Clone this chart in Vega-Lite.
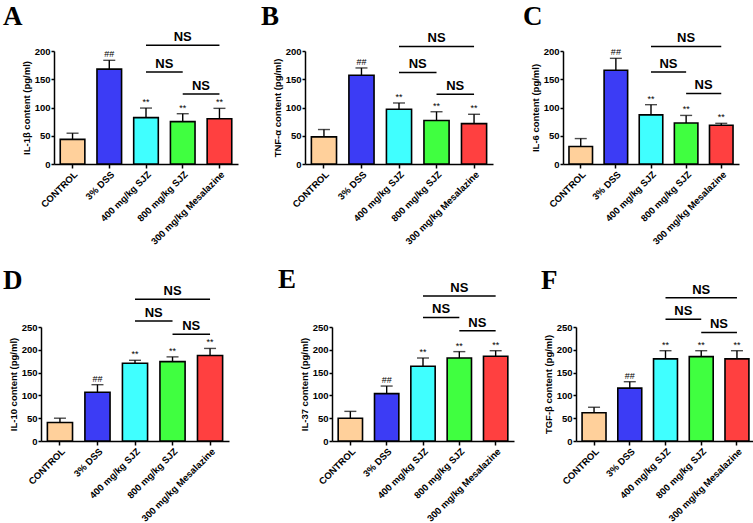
{
"$schema": "https://vega.github.io/schema/vega-lite/v6.json",
"padding": {"left": 3, "top": 3, "right": 5, "bottom": 0},
"background": "white",
"config": {
  "view": {"stroke": null},
  "font": "Liberation Sans",
  "title": {"font": "Liberation Serif", "fontSize": 27, "fontWeight": "bold", "anchor": "start", "frame": "group", "color": "black", "offset": -3, "baseline": "alphabetic"},
  "axis": {"labelFont": "Liberation Sans", "labelFontWeight": "bold", "labelColor": "black", "titleFont": "Liberation Sans", "titleFontWeight": "bold", "titleColor": "black", "domainColor": "black", "domainWidth": 1.5, "tickColor": "black", "tickWidth": 1.5, "grid": false, "labelOverlap": false},
  "axisY": {"labelFontSize": 9.5, "titleFontSize": 9.5, "tickSize": 3, "labelPadding": 1, "titlePadding": 3, "tickCount": 6},
  "axisX": {"labelAngle": -45, "labelFontSize": 9.5, "tickSize": 4, "labelPadding": 1}
},
"datasets": {
  "bars": [
    {"panel": "A", "group": "CONTROL", "mean": 43.5, "hi": 54.5, "sig": ""},
    {"panel": "A", "group": "3% DSS", "mean": 168, "hi": 183.5, "sig": "##"},
    {"panel": "A", "group": "400 mg/kg SJZ", "mean": 82, "hi": 99, "sig": "**"},
    {"panel": "A", "group": "800 mg/kg SJZ", "mean": 75, "hi": 89, "sig": "**"},
    {"panel": "A", "group": "300 mg/kg Mesalazine", "mean": 80, "hi": 98.5, "sig": "**"},
    {"panel": "B", "group": "CONTROL", "mean": 48, "hi": 61, "sig": ""},
    {"panel": "B", "group": "3% DSS", "mean": 157, "hi": 170, "sig": "##"},
    {"panel": "B", "group": "400 mg/kg SJZ", "mean": 97, "hi": 108, "sig": "**"},
    {"panel": "B", "group": "800 mg/kg SJZ", "mean": 77, "hi": 92.5, "sig": "**"},
    {"panel": "B", "group": "300 mg/kg Mesalazine", "mean": 71.5, "hi": 88, "sig": "**"},
    {"panel": "C", "group": "CONTROL", "mean": 31, "hi": 45, "sig": ""},
    {"panel": "C", "group": "3% DSS", "mean": 166, "hi": 187, "sig": "##"},
    {"panel": "C", "group": "400 mg/kg SJZ", "mean": 87, "hi": 105, "sig": "**"},
    {"panel": "C", "group": "800 mg/kg SJZ", "mean": 72.5, "hi": 86, "sig": "**"},
    {"panel": "C", "group": "300 mg/kg Mesalazine", "mean": 68.5, "hi": 72, "sig": "**"},
    {"panel": "D", "group": "CONTROL", "mean": 40.5, "hi": 50, "sig": ""},
    {"panel": "D", "group": "3% DSS", "mean": 107, "hi": 123.5, "sig": "##"},
    {"panel": "D", "group": "400 mg/kg SJZ", "mean": 170.5, "hi": 177, "sig": "**"},
    {"panel": "D", "group": "800 mg/kg SJZ", "mean": 174, "hi": 184.5, "sig": "**"},
    {"panel": "D", "group": "300 mg/kg Mesalazine", "mean": 187.5, "hi": 203, "sig": "**"},
    {"panel": "E", "group": "CONTROL", "mean": 50, "hi": 65, "sig": ""},
    {"panel": "E", "group": "3% DSS", "mean": 104, "hi": 120.5, "sig": "##"},
    {"panel": "E", "group": "400 mg/kg SJZ", "mean": 164, "hi": 182, "sig": "**"},
    {"panel": "E", "group": "800 mg/kg SJZ", "mean": 182, "hi": 196, "sig": "**"},
    {"panel": "E", "group": "300 mg/kg Mesalazine", "mean": 186, "hi": 198, "sig": "**"},
    {"panel": "F", "group": "CONTROL", "mean": 62, "hi": 74, "sig": ""},
    {"panel": "F", "group": "3% DSS", "mean": 116, "hi": 130, "sig": "##"},
    {"panel": "F", "group": "400 mg/kg SJZ", "mean": 180, "hi": 198, "sig": "**"},
    {"panel": "F", "group": "800 mg/kg SJZ", "mean": 185, "hi": 198, "sig": "**"},
    {"panel": "F", "group": "300 mg/kg Mesalazine", "mean": 180, "hi": 198, "sig": "**"}
  ],
  "ns": [
    {"panel": "A", "from": "400 mg/kg SJZ", "to": "300 mg/kg Mesalazine", "at": "800 mg/kg SJZ", "span": 2, "level": 210, "label": "NS"},
    {"panel": "A", "from": "400 mg/kg SJZ", "to": "800 mg/kg SJZ", "at": "800 mg/kg SJZ", "span": 1, "level": 163, "label": "NS"},
    {"panel": "A", "from": "800 mg/kg SJZ", "to": "300 mg/kg Mesalazine", "at": "300 mg/kg Mesalazine", "span": 1, "level": 124, "label": "NS"},
    {"panel": "B", "from": "400 mg/kg SJZ", "to": "300 mg/kg Mesalazine", "at": "800 mg/kg SJZ", "span": 2, "level": 208, "label": "NS"},
    {"panel": "B", "from": "400 mg/kg SJZ", "to": "800 mg/kg SJZ", "at": "800 mg/kg SJZ", "span": 1, "level": 162, "label": "NS"},
    {"panel": "B", "from": "800 mg/kg SJZ", "to": "300 mg/kg Mesalazine", "at": "300 mg/kg Mesalazine", "span": 1, "level": 123.5, "label": "NS"},
    {"panel": "C", "from": "400 mg/kg SJZ", "to": "300 mg/kg Mesalazine", "at": "800 mg/kg SJZ", "span": 2, "level": 208, "label": "NS"},
    {"panel": "C", "from": "400 mg/kg SJZ", "to": "800 mg/kg SJZ", "at": "800 mg/kg SJZ", "span": 1, "level": 163, "label": "NS"},
    {"panel": "C", "from": "800 mg/kg SJZ", "to": "300 mg/kg Mesalazine", "at": "300 mg/kg Mesalazine", "span": 1, "level": 125, "label": "NS"},
    {"panel": "D", "from": "400 mg/kg SJZ", "to": "300 mg/kg Mesalazine", "at": "800 mg/kg SJZ", "span": 2, "level": 311, "label": "NS"},
    {"panel": "D", "from": "400 mg/kg SJZ", "to": "800 mg/kg SJZ", "at": "800 mg/kg SJZ", "span": 1, "level": 263, "label": "NS"},
    {"panel": "D", "from": "800 mg/kg SJZ", "to": "300 mg/kg Mesalazine", "at": "300 mg/kg Mesalazine", "span": 1, "level": 234, "label": "NS"},
    {"panel": "E", "from": "400 mg/kg SJZ", "to": "300 mg/kg Mesalazine", "at": "800 mg/kg SJZ", "span": 2, "level": 318, "label": "NS"},
    {"panel": "E", "from": "400 mg/kg SJZ", "to": "800 mg/kg SJZ", "at": "800 mg/kg SJZ", "span": 1, "level": 271, "label": "NS"},
    {"panel": "E", "from": "800 mg/kg SJZ", "to": "300 mg/kg Mesalazine", "at": "300 mg/kg Mesalazine", "span": 1, "level": 242, "label": "NS"},
    {"panel": "F", "from": "400 mg/kg SJZ", "to": "300 mg/kg Mesalazine", "at": "800 mg/kg SJZ", "span": 2, "level": 314, "label": "NS"},
    {"panel": "F", "from": "400 mg/kg SJZ", "to": "800 mg/kg SJZ", "at": "800 mg/kg SJZ", "span": 1, "level": 267, "label": "NS"},
    {"panel": "F", "from": "800 mg/kg SJZ", "to": "300 mg/kg Mesalazine", "at": "300 mg/kg Mesalazine", "span": 1, "level": 238, "label": "NS"}
  ]
},
"vconcat": [
 {"hconcat": [
  {"width": 197, "height": 136, "title": {"text": "A", "dx": -38},
   "encoding": {"x": {"field": "group", "type": "nominal", "sort": null, "scale": {"domain": ["CONTROL", "3% DSS", "400 mg/kg SJZ", "800 mg/kg SJZ", "300 mg/kg Mesalazine"], "range": [13, 197], "paddingInner": 0.33, "paddingOuter": 0.17}, "axis": {"title": null}}},
   "layer": [
    {"data": {"name": "bars"}, "transform": [{"filter": "datum.panel === 'A'"}], "mark": {"type": "bar", "stroke": "black", "strokeWidth": 1.6},
     "encoding": {"y": {"field": "mean", "type": "quantitative", "scale": {"domain": [0, 200], "range": [136, 23], "nice": false}, "axis": {"title": "IL-1β content (pg/ml)", "values": [0, 50, 100, 150, 200], "offset": -13}},
      "color": {"field": "group", "type": "nominal", "scale": {"domain": ["CONTROL", "3% DSS", "400 mg/kg SJZ", "800 mg/kg SJZ", "300 mg/kg Mesalazine"], "range": ["#FFD09B", "#3C3CF5", "#40FFFF", "#40FF40", "#FF4040"]}, "legend": null}}},
    {"data": {"name": "bars"}, "transform": [{"filter": "datum.panel === 'A'"}], "mark": {"type": "rule", "color": "black", "strokeWidth": 1.4}, "encoding": {"y": {"field": "mean", "type": "quantitative"}, "y2": {"field": "hi"}}},
    {"data": {"name": "bars"}, "transform": [{"filter": "datum.panel === 'A'"}], "mark": {"type": "tick", "color": "black", "thickness": 1.4, "size": 12}, "encoding": {"y": {"field": "hi", "type": "quantitative"}}},
    {"data": {"name": "bars"}, "transform": [{"filter": "datum.panel === 'A'"}], "mark": {"type": "text", "fontSize": 9, "dy": -3, "baseline": "alphabetic", "color": "black"}, "encoding": {"y": {"field": "hi", "type": "quantitative"}, "text": {"field": "sig"}}},
    {"data": {"name": "ns"}, "transform": [{"filter": "datum.panel === 'A'"}], "mark": {"type": "rule", "color": "black", "strokeWidth": 1.5}, "encoding": {"x": {"field": "from", "type": "nominal"}, "x2": {"field": "to"}, "y": {"field": "level", "type": "quantitative"}}},
    {"data": {"name": "ns"}, "transform": [{"filter": "datum.panel === 'A' && datum.span === 2"}], "mark": {"type": "text", "fontSize": 13, "fontWeight": "bold", "dy": -4, "baseline": "alphabetic", "color": "black"}, "encoding": {"x": {"field": "at", "type": "nominal"}, "y": {"field": "level", "type": "quantitative"}, "text": {"field": "label"}}},
    {"data": {"name": "ns"}, "transform": [{"filter": "datum.panel === 'A' && datum.span === 1"}], "mark": {"type": "text", "fontSize": 13, "fontWeight": "bold", "dy": -4, "baseline": "alphabetic", "color": "black"}, "encoding": {"x": {"field": "at", "type": "nominal", "bandPosition": -0.25}, "y": {"field": "level", "type": "quantitative"}, "text": {"field": "label"}}}
   ]},
  {"hconcat": [
  {"width": 188, "height": 136, "title": {"text": "B", "dx": -44},
   "encoding": {"x": {"field": "group", "type": "nominal", "sort": null, "scale": {"domain": ["CONTROL", "3% DSS", "400 mg/kg SJZ", "800 mg/kg SJZ", "300 mg/kg Mesalazine"], "paddingInner": 0.33, "paddingOuter": 0.17}, "axis": {"title": null}}},
   "layer": [
    {"data": {"name": "bars"}, "transform": [{"filter": "datum.panel === 'B'"}], "mark": {"type": "bar", "stroke": "black", "strokeWidth": 1.6},
     "encoding": {"y": {"field": "mean", "type": "quantitative", "scale": {"domain": [0, 200], "range": [136, 23], "nice": false}, "axis": {"title": "TNF-α content (pg/ml)", "values": [0, 50, 100, 150, 200]}},
      "color": {"field": "group", "type": "nominal", "scale": {"domain": ["CONTROL", "3% DSS", "400 mg/kg SJZ", "800 mg/kg SJZ", "300 mg/kg Mesalazine"], "range": ["#FFD09B", "#3C3CF5", "#40FFFF", "#40FF40", "#FF4040"]}, "legend": null}}},
    {"data": {"name": "bars"}, "transform": [{"filter": "datum.panel === 'B'"}], "mark": {"type": "rule", "color": "black", "strokeWidth": 1.4}, "encoding": {"y": {"field": "mean", "type": "quantitative"}, "y2": {"field": "hi"}}},
    {"data": {"name": "bars"}, "transform": [{"filter": "datum.panel === 'B'"}], "mark": {"type": "tick", "color": "black", "thickness": 1.4, "size": 12}, "encoding": {"y": {"field": "hi", "type": "quantitative"}}},
    {"data": {"name": "bars"}, "transform": [{"filter": "datum.panel === 'B'"}], "mark": {"type": "text", "fontSize": 9, "dy": -3, "baseline": "alphabetic", "color": "black"}, "encoding": {"y": {"field": "hi", "type": "quantitative"}, "text": {"field": "sig"}}},
    {"data": {"name": "ns"}, "transform": [{"filter": "datum.panel === 'B'"}], "mark": {"type": "rule", "color": "black", "strokeWidth": 1.5}, "encoding": {"x": {"field": "from", "type": "nominal"}, "x2": {"field": "to"}, "y": {"field": "level", "type": "quantitative"}}},
    {"data": {"name": "ns"}, "transform": [{"filter": "datum.panel === 'B' && datum.span === 2"}], "mark": {"type": "text", "fontSize": 13, "fontWeight": "bold", "dy": -4, "baseline": "alphabetic", "color": "black"}, "encoding": {"x": {"field": "at", "type": "nominal"}, "y": {"field": "level", "type": "quantitative"}, "text": {"field": "label"}}},
    {"data": {"name": "ns"}, "transform": [{"filter": "datum.panel === 'B' && datum.span === 1"}], "mark": {"type": "text", "fontSize": 13, "fontWeight": "bold", "dy": -4, "baseline": "alphabetic", "color": "black"}, "encoding": {"x": {"field": "at", "type": "nominal", "bandPosition": -0.25}, "y": {"field": "level", "type": "quantitative"}, "text": {"field": "label"}}}
   ]},
  {"width": 176, "height": 136, "title": {"text": "C", "dx": -40},
   "encoding": {"x": {"field": "group", "type": "nominal", "sort": null, "scale": {"domain": ["CONTROL", "3% DSS", "400 mg/kg SJZ", "800 mg/kg SJZ", "300 mg/kg Mesalazine"], "paddingInner": 0.33, "paddingOuter": 0.17}, "axis": {"title": null}}},
   "layer": [
    {"data": {"name": "bars"}, "transform": [{"filter": "datum.panel === 'C'"}], "mark": {"type": "bar", "stroke": "black", "strokeWidth": 1.6},
     "encoding": {"y": {"field": "mean", "type": "quantitative", "scale": {"domain": [0, 200], "range": [136, 23], "nice": false}, "axis": {"title": "IL-6 content (pg/ml)", "values": [0, 50, 100, 150, 200]}},
      "color": {"field": "group", "type": "nominal", "scale": {"domain": ["CONTROL", "3% DSS", "400 mg/kg SJZ", "800 mg/kg SJZ", "300 mg/kg Mesalazine"], "range": ["#FFD09B", "#3C3CF5", "#40FFFF", "#40FF40", "#FF4040"]}, "legend": null}}},
    {"data": {"name": "bars"}, "transform": [{"filter": "datum.panel === 'C'"}], "mark": {"type": "rule", "color": "black", "strokeWidth": 1.4}, "encoding": {"y": {"field": "mean", "type": "quantitative"}, "y2": {"field": "hi"}}},
    {"data": {"name": "bars"}, "transform": [{"filter": "datum.panel === 'C'"}], "mark": {"type": "tick", "color": "black", "thickness": 1.4, "size": 12}, "encoding": {"y": {"field": "hi", "type": "quantitative"}}},
    {"data": {"name": "bars"}, "transform": [{"filter": "datum.panel === 'C'"}], "mark": {"type": "text", "fontSize": 9, "dy": -3, "baseline": "alphabetic", "color": "black"}, "encoding": {"y": {"field": "hi", "type": "quantitative"}, "text": {"field": "sig"}}},
    {"data": {"name": "ns"}, "transform": [{"filter": "datum.panel === 'C'"}], "mark": {"type": "rule", "color": "black", "strokeWidth": 1.5}, "encoding": {"x": {"field": "from", "type": "nominal"}, "x2": {"field": "to"}, "y": {"field": "level", "type": "quantitative"}}},
    {"data": {"name": "ns"}, "transform": [{"filter": "datum.panel === 'C' && datum.span === 2"}], "mark": {"type": "text", "fontSize": 13, "fontWeight": "bold", "dy": -4, "baseline": "alphabetic", "color": "black"}, "encoding": {"x": {"field": "at", "type": "nominal"}, "y": {"field": "level", "type": "quantitative"}, "text": {"field": "label"}}},
    {"data": {"name": "ns"}, "transform": [{"filter": "datum.panel === 'C' && datum.span === 1"}], "mark": {"type": "text", "fontSize": 13, "fontWeight": "bold", "dy": -4, "baseline": "alphabetic", "color": "black"}, "encoding": {"x": {"field": "at", "type": "nominal", "bandPosition": -0.25}, "y": {"field": "level", "type": "quantitative"}, "text": {"field": "label"}}}
   ]}
  ], "spacing": 30}
 ], "spacing": 23},
 {"hconcat": [
  {"width": 188, "height": 158, "title": {"text": "D", "dx": -38, "offset": -12},
   "encoding": {"x": {"field": "group", "type": "nominal", "sort": null, "scale": {"domain": ["CONTROL", "3% DSS", "400 mg/kg SJZ", "800 mg/kg SJZ", "300 mg/kg Mesalazine"], "paddingInner": 0.33, "paddingOuter": 0.17}, "axis": {"title": null}}},
   "layer": [
    {"data": {"name": "bars"}, "transform": [{"filter": "datum.panel === 'D'"}], "mark": {"type": "bar", "stroke": "black", "strokeWidth": 1.6},
     "encoding": {"y": {"field": "mean", "type": "quantitative", "scale": {"domain": [0, 250], "range": [158, 44], "nice": false}, "axis": {"title": "IL-10 content (pg/ml)", "values": [0, 50, 100, 150, 200, 250]}},
      "color": {"field": "group", "type": "nominal", "scale": {"domain": ["CONTROL", "3% DSS", "400 mg/kg SJZ", "800 mg/kg SJZ", "300 mg/kg Mesalazine"], "range": ["#FFD09B", "#3C3CF5", "#40FFFF", "#40FF40", "#FF4040"]}, "legend": null}}},
    {"data": {"name": "bars"}, "transform": [{"filter": "datum.panel === 'D'"}], "mark": {"type": "rule", "color": "black", "strokeWidth": 1.4}, "encoding": {"y": {"field": "mean", "type": "quantitative"}, "y2": {"field": "hi"}}},
    {"data": {"name": "bars"}, "transform": [{"filter": "datum.panel === 'D'"}], "mark": {"type": "tick", "color": "black", "thickness": 1.4, "size": 12}, "encoding": {"y": {"field": "hi", "type": "quantitative"}}},
    {"data": {"name": "bars"}, "transform": [{"filter": "datum.panel === 'D'"}], "mark": {"type": "text", "fontSize": 9, "dy": -3, "baseline": "alphabetic", "color": "black"}, "encoding": {"y": {"field": "hi", "type": "quantitative"}, "text": {"field": "sig"}}},
    {"data": {"name": "ns"}, "transform": [{"filter": "datum.panel === 'D'"}], "mark": {"type": "rule", "color": "black", "strokeWidth": 1.5}, "encoding": {"x": {"field": "from", "type": "nominal"}, "x2": {"field": "to"}, "y": {"field": "level", "type": "quantitative"}}},
    {"data": {"name": "ns"}, "transform": [{"filter": "datum.panel === 'D' && datum.span === 2"}], "mark": {"type": "text", "fontSize": 13, "fontWeight": "bold", "dy": -4, "baseline": "alphabetic", "color": "black"}, "encoding": {"x": {"field": "at", "type": "nominal"}, "y": {"field": "level", "type": "quantitative"}, "text": {"field": "label"}}},
    {"data": {"name": "ns"}, "transform": [{"filter": "datum.panel === 'D' && datum.span === 1"}], "mark": {"type": "text", "fontSize": 13, "fontWeight": "bold", "dy": -4, "baseline": "alphabetic", "color": "black"}, "encoding": {"x": {"field": "at", "type": "nominal", "bandPosition": -0.25}, "y": {"field": "level", "type": "quantitative"}, "text": {"field": "label"}}}
   ]},
  {"hconcat": [
  {"width": 182, "height": 158, "title": {"text": "E", "dx": -54, "offset": -12},
   "encoding": {"x": {"field": "group", "type": "nominal", "sort": null, "scale": {"domain": ["CONTROL", "3% DSS", "400 mg/kg SJZ", "800 mg/kg SJZ", "300 mg/kg Mesalazine"], "paddingInner": 0.33, "paddingOuter": 0.17}, "axis": {"title": null}}},
   "layer": [
    {"data": {"name": "bars"}, "transform": [{"filter": "datum.panel === 'E'"}], "mark": {"type": "bar", "stroke": "black", "strokeWidth": 1.6},
     "encoding": {"y": {"field": "mean", "type": "quantitative", "scale": {"domain": [0, 250], "range": [158, 44], "nice": false}, "axis": {"title": "IL-37 content (pg/ml)", "values": [0, 50, 100, 150, 200, 250]}},
      "color": {"field": "group", "type": "nominal", "scale": {"domain": ["CONTROL", "3% DSS", "400 mg/kg SJZ", "800 mg/kg SJZ", "300 mg/kg Mesalazine"], "range": ["#FFD09B", "#3C3CF5", "#40FFFF", "#40FF40", "#FF4040"]}, "legend": null}}},
    {"data": {"name": "bars"}, "transform": [{"filter": "datum.panel === 'E'"}], "mark": {"type": "rule", "color": "black", "strokeWidth": 1.4}, "encoding": {"y": {"field": "mean", "type": "quantitative"}, "y2": {"field": "hi"}}},
    {"data": {"name": "bars"}, "transform": [{"filter": "datum.panel === 'E'"}], "mark": {"type": "tick", "color": "black", "thickness": 1.4, "size": 12}, "encoding": {"y": {"field": "hi", "type": "quantitative"}}},
    {"data": {"name": "bars"}, "transform": [{"filter": "datum.panel === 'E'"}], "mark": {"type": "text", "fontSize": 9, "dy": -3, "baseline": "alphabetic", "color": "black"}, "encoding": {"y": {"field": "hi", "type": "quantitative"}, "text": {"field": "sig"}}},
    {"data": {"name": "ns"}, "transform": [{"filter": "datum.panel === 'E'"}], "mark": {"type": "rule", "color": "black", "strokeWidth": 1.5}, "encoding": {"x": {"field": "from", "type": "nominal"}, "x2": {"field": "to"}, "y": {"field": "level", "type": "quantitative"}}},
    {"data": {"name": "ns"}, "transform": [{"filter": "datum.panel === 'E' && datum.span === 2"}], "mark": {"type": "text", "fontSize": 13, "fontWeight": "bold", "dy": -4, "baseline": "alphabetic", "color": "black"}, "encoding": {"x": {"field": "at", "type": "nominal"}, "y": {"field": "level", "type": "quantitative"}, "text": {"field": "label"}}},
    {"data": {"name": "ns"}, "transform": [{"filter": "datum.panel === 'E' && datum.span === 1"}], "mark": {"type": "text", "fontSize": 13, "fontWeight": "bold", "dy": -4, "baseline": "alphabetic", "color": "black"}, "encoding": {"x": {"field": "at", "type": "nominal", "bandPosition": -0.25}, "y": {"field": "level", "type": "quantitative"}, "text": {"field": "label"}}}
   ]},
  {"width": 179, "height": 158, "title": {"text": "F", "dx": -35, "offset": -12},
   "encoding": {"x": {"field": "group", "type": "nominal", "sort": null, "scale": {"domain": ["CONTROL", "3% DSS", "400 mg/kg SJZ", "800 mg/kg SJZ", "300 mg/kg Mesalazine"], "paddingInner": 0.33, "paddingOuter": 0.17}, "axis": {"title": null}}},
   "layer": [
    {"data": {"name": "bars"}, "transform": [{"filter": "datum.panel === 'F'"}], "mark": {"type": "bar", "stroke": "black", "strokeWidth": 1.6},
     "encoding": {"y": {"field": "mean", "type": "quantitative", "scale": {"domain": [0, 250], "range": [158, 44], "nice": false}, "axis": {"title": "TGF-β content (pg/ml)", "values": [0, 50, 100, 150, 200, 250]}},
      "color": {"field": "group", "type": "nominal", "scale": {"domain": ["CONTROL", "3% DSS", "400 mg/kg SJZ", "800 mg/kg SJZ", "300 mg/kg Mesalazine"], "range": ["#FFD09B", "#3C3CF5", "#40FFFF", "#40FF40", "#FF4040"]}, "legend": null}}},
    {"data": {"name": "bars"}, "transform": [{"filter": "datum.panel === 'F'"}], "mark": {"type": "rule", "color": "black", "strokeWidth": 1.4}, "encoding": {"y": {"field": "mean", "type": "quantitative"}, "y2": {"field": "hi"}}},
    {"data": {"name": "bars"}, "transform": [{"filter": "datum.panel === 'F'"}], "mark": {"type": "tick", "color": "black", "thickness": 1.4, "size": 12}, "encoding": {"y": {"field": "hi", "type": "quantitative"}}},
    {"data": {"name": "bars"}, "transform": [{"filter": "datum.panel === 'F'"}], "mark": {"type": "text", "fontSize": 9, "dy": -3, "baseline": "alphabetic", "color": "black"}, "encoding": {"y": {"field": "hi", "type": "quantitative"}, "text": {"field": "sig"}}},
    {"data": {"name": "ns"}, "transform": [{"filter": "datum.panel === 'F'"}], "mark": {"type": "rule", "color": "black", "strokeWidth": 1.5}, "encoding": {"x": {"field": "from", "type": "nominal"}, "x2": {"field": "to"}, "y": {"field": "level", "type": "quantitative"}}},
    {"data": {"name": "ns"}, "transform": [{"filter": "datum.panel === 'F' && datum.span === 2"}], "mark": {"type": "text", "fontSize": 13, "fontWeight": "bold", "dy": -4, "baseline": "alphabetic", "color": "black"}, "encoding": {"x": {"field": "at", "type": "nominal"}, "y": {"field": "level", "type": "quantitative"}, "text": {"field": "label"}}},
    {"data": {"name": "ns"}, "transform": [{"filter": "datum.panel === 'F' && datum.span === 1"}], "mark": {"type": "text", "fontSize": 13, "fontWeight": "bold", "dy": -4, "baseline": "alphabetic", "color": "black"}, "encoding": {"x": {"field": "at", "type": "nominal", "bandPosition": -0.25}, "y": {"field": "level", "type": "quantitative"}, "text": {"field": "label"}}}
   ]}
  ], "spacing": 27}
 ], "spacing": 49}
],
"spacing": 19
}
